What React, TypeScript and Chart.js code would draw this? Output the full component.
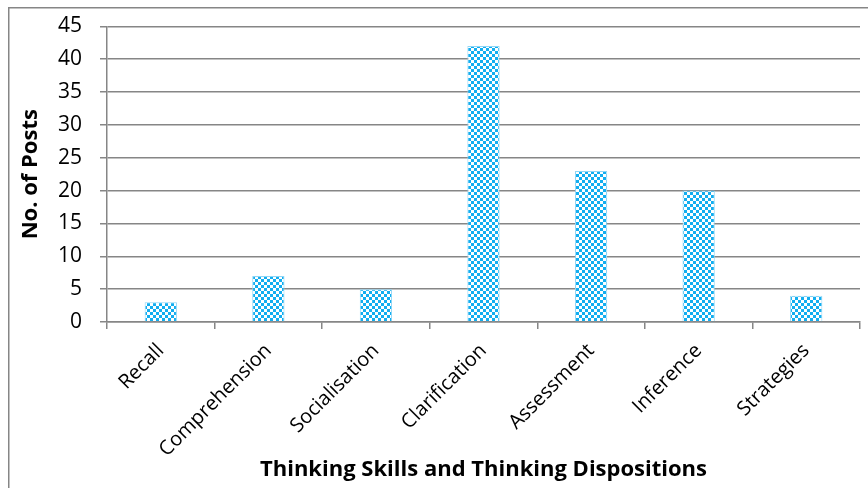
import React, { useEffect, useRef } from "react";
import { Chart, registerables } from "chart.js";

Chart.register(...registerables);

const categories = ["Recall", "Comprehension", "Socialisation", "Clarification", "Assessment", "Inference", "Strategies"];
const posts = [3, 7, 5, 42, 23, 20, 4];
const yTicks = [0, 5, 10, 15, 20, 25, 30, 35, 40, 45];

const GRAY = "#868686";
const FONT = "'Open Sans'";

function makePattern(): CanvasPattern | string {
  const c = document.createElement("canvas");
  c.width = 6;
  c.height = 6;
  const ctx = c.getContext("2d");
  if (!ctx) return "#1cb0f0";
  ctx.fillStyle = "#ffffff";
  ctx.fillRect(0, 0, 6, 6);
  ctx.fillStyle = "#12aef0";
  ctx.fillRect(0, 0, 3, 3);
  ctx.fillRect(3, 3, 3, 3);
  const p = ctx.createPattern(c, "repeat");
  return p || "#1cb0f0";
}

const framePlugin = {
  id: "frame",
  beforeDraw(chart: any) {
    const ctx = chart.ctx;
    ctx.save();
    ctx.fillStyle = "#ffffff";
    ctx.fillRect(0, 0, chart.width, chart.height);
    ctx.strokeStyle = GRAY;
    ctx.lineWidth = 1.5;
    ctx.beginPath();
    ctx.moveTo(8.75, chart.height);
    ctx.lineTo(8.75, 7.75);
    ctx.lineTo(chart.width, 7.75);
    ctx.stroke();
    ctx.restore();
  },
};

export default function App() {
  const ref = useRef<HTMLCanvasElement>(null);
  useEffect(() => {
    if (!ref.current) return;
    const pattern = makePattern();
    const chart = new Chart(ref.current, {
      type: "bar",
      data: {
        labels: categories,
        datasets: [
          {
            data: posts,
            backgroundColor: pattern as any,
            borderColor: "#8fd6f6",
            borderWidth: 1,
            categoryPercentage: 1,
            barPercentage: 0.3,
          },
        ],
      },
      plugins: [framePlugin],
      options: {
        animation: false,
        responsive: false,
        maintainAspectRatio: false,
        layout: { padding: { left: 0, right: 8, top: 25, bottom: 0 } },
        plugins: { legend: { display: false }, tooltip: { enabled: false } },
        scales: {
          x: {
            offset: true,
            grid: {
              offset: true,
              drawOnChartArea: false,
              drawTicks: true,
              tickLength: 7,
              color: GRAY,
              lineWidth: 1.5,
            },
            border: { display: true, color: GRAY, width: 1.5 },
            ticks: {
              autoSkip: false,
              maxRotation: 45,
              minRotation: 45,
              padding: 10,
              color: "#000000",
              font: { family: FONT, size: 20 },
            },
            title: {
              display: true,
              text: "Thinking Skills and Thinking Dispositions",
              color: "#000000",
              font: { family: FONT, size: 22, weight: "bold" },
              padding: { top: 0, bottom: 5 },
            },
            afterFit(scale: any) {
              scale.height = 166;
            },
          },
          y: {
            min: 0,
            max: 45,
            afterBuildTicks(scale: any) {
              scale.ticks = yTicks.map((v) => ({ value: v }));
            },
            grid: {
              color: GRAY,
              lineWidth: 1.5,
              drawTicks: true,
              tickLength: 7,
            },
            border: { display: true, color: GRAY, width: 1.5 },
            ticks: {
              padding: 18,
              color: "#000000",
              font: { family: FONT, size: 21, lineHeight: 0.8 },
            },
            title: {
              display: true,
              text: "No. of Posts",
              color: "#000000",
              font: { family: FONT, size: 22, weight: "bold" },
              padding: { top: 18, bottom: 0 },
            },
            afterFit(scale: any) {
              scale.width = 107;
            },
          },
        },
      },
    });
    return () => chart.destroy();
  }, []);
  return (
    <div style={{ position: "absolute", left: 0, top: 0, width: 868, height: 488 }}>
      <canvas ref={ref} width={868} height={488} style={{ display: "block" }} />
    </div>
  );
}
